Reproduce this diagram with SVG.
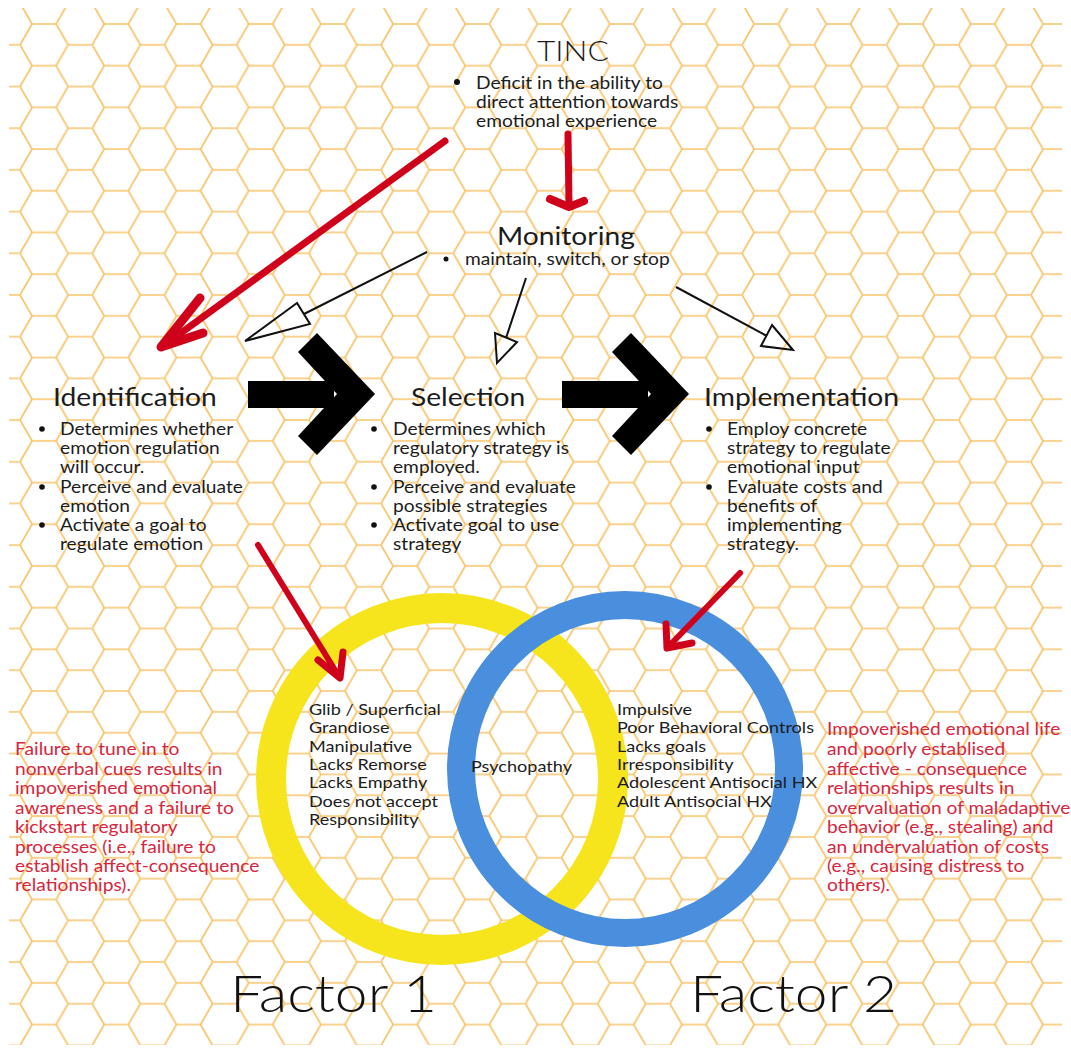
<svg xmlns="http://www.w3.org/2000/svg" width="1071" height="1051" viewBox="0 0 1071 1051">
<defs>
<pattern id="hex" patternUnits="userSpaceOnUse" x="20" y="24" width="72.21" height="41.69">
<path d="M0,20.845 L12.035,0 L36.105,0 L48.14,20.845 L36.105,41.69 L12.035,41.69 Z M48.14,20.845 L72.21,20.845" fill="none" stroke="#F9C36A" stroke-width="1.7"/>
</pattern>
<style>
text{font-family:Lato,"Liberation Sans",sans-serif;fill:#1c1c1c}
.h{font-size:25px}
.b{font-size:17px}
.c{font-size:16px}
.r{font-size:17px;fill:#D7263D}
.f{font-size:52px;font-weight:300;fill:#111}
.red{fill:none;stroke:#D0021B;stroke-linecap:round;stroke-linejoin:round}
.thin{fill:none;stroke:#111;stroke-width:2}
</style>
</defs>
<rect width="1071" height="1051" fill="#fff"/>
<rect x="9" y="8" width="1053" height="1037" fill="url(#hex)"/>

<g id="venn">
<circle id="factor1-circle" cx="442" cy="779" r="171" fill="none" stroke="#F6E51C" stroke-width="30"/>
<circle id="factor2-circle" cx="625" cy="769" r="164" fill="none" stroke="#4A8EDE" stroke-width="28"/>
</g>

<g id="connectors">
<path class="red" stroke-width="7" d="M445,141 L163,346"/>
<path class="red" stroke-width="9" d="M200,298 L161,347 L203,333"/>
<path class="red" stroke-width="7" d="M568,134 L569,205"/>
<path class="red" stroke-width="8" d="M550,199 L569,207 L584,201"/>
<path class="red" stroke-width="6" d="M258,545 L338,675"/>
<path class="red" stroke-width="7" d="M318,660 L340,678 L343,652"/>
<path class="red" stroke-width="6" d="M740,573 L670,645"/>
<path class="red" stroke-width="7" d="M666,624 L667,648 L692,643"/>
<path class="thin" d="M427,252 L304,314"/>
<path class="thin" d="M297,303 L245,341 L310,324 Z"/>
<path class="thin" d="M526,278 L506,338"/>
<path class="thin" d="M495,333 L497,363 L517,342 Z"/>
<path class="thin" d="M676,287 L767,336"/>
<path class="thin" d="M772,325 L793,350 L761,346 Z"/>
<path fill="#000" d="M248,381 H334 V408 H248 Z M298,352 L317,333 L375,394 L317,455 L298,436 L337,394 Z"/>
<path fill="#000" d="M562,381 H648 V408 H562 Z M612,352 L631,333 L689,394 L631,455 L612,436 L651,394 Z"/>
</g>

<g id="tinc">
<text x="537" y="61" transform="matrix(1.13,0,0,1,-69.81,0)" style="font-size:28px;font-weight:300">TINC</text>
<circle cx="457" cy="82" r="3" fill="#111"/>
<g transform="matrix(1.13,0,0,1,-61.88,0)">
<text class="b" x="476" y="89">Deficit in the ability to</text>
<text class="b" x="476" y="108">direct attention towards</text>
<text class="b" x="476" y="127">emotional experience</text>
</g>
</g>

<g id="monitoring">
<text class="h" x="497" y="245" transform="matrix(1.13,0,0,1,-64.61,0)">Monitoring</text>
<circle cx="446" cy="259" r="2.5" fill="#111"/>
<text x="465" y="265" transform="matrix(1.13,0,0,1,-60.45,0)" style="font-size:17px">maintain, switch, or stop</text>
</g>

<g id="identification">
<text class="h" x="53" y="406" transform="matrix(1.13,0,0,1,-6.89,0)">Identification</text>
<circle cx="42" cy="429" r="2.8" fill="#111"/>
<circle cx="42" cy="487" r="2.8" fill="#111"/>
<circle cx="42" cy="525" r="2.8" fill="#111"/>
<g transform="matrix(1.13,0,0,1,-7.8,0)">
<text class="b" x="60" y="435">Determines whether</text>
<text class="b" x="60" y="454">emotion regulation</text>
<text class="b" x="60" y="473">will occur.</text>
<text class="b" x="60" y="493">Perceive and evaluate</text>
<text class="b" x="60" y="512">emotion</text>
<text class="b" x="60" y="531">Activate a goal to</text>
<text class="b" x="60" y="550">regulate emotion</text>
</g>
</g>

<g id="selection">
<text class="h" x="411" y="406" transform="matrix(1.13,0,0,1,-53.43,0)">Selection</text>
<circle cx="374" cy="429" r="2.8" fill="#111"/>
<circle cx="374" cy="487" r="2.8" fill="#111"/>
<circle cx="374" cy="525" r="2.8" fill="#111"/>
<g transform="matrix(1.13,0,0,1,-51.09,0)">
<text class="b" x="393" y="435">Determines which</text>
<text class="b" x="393" y="454">regulatory strategy is</text>
<text class="b" x="393" y="473">employed.</text>
<text class="b" x="393" y="493">Perceive and evaluate</text>
<text class="b" x="393" y="512">possible strategies</text>
<text class="b" x="393" y="531">Activate goal to use</text>
<text class="b" x="393" y="550">strategy</text>
</g>
</g>

<g id="implementation">
<text class="h" x="704" y="406" transform="matrix(1.13,0,0,1,-91.52,0)">Implementation</text>
<circle cx="709" cy="429" r="2.8" fill="#111"/>
<circle cx="709" cy="487" r="2.8" fill="#111"/>
<g transform="matrix(1.13,0,0,1,-94.51,0)">
<text class="b" x="727" y="435">Employ concrete</text>
<text class="b" x="727" y="454">strategy to regulate</text>
<text class="b" x="727" y="473">emotional input</text>
<text class="b" x="727" y="493">Evaluate costs and</text>
<text class="b" x="727" y="512">benefits of</text>
<text class="b" x="727" y="531">implementing</text>
<text class="b" x="727" y="550">strategy.</text>
</g>
</g>

<g id="factor1-traits" transform="matrix(1.13,0,0,1,-40.17,0)">
<text class="c" x="309" y="715">Glib / Superficial</text>
<text class="c" x="309" y="733">Grandiose</text>
<text class="c" x="309" y="752">Manipulative</text>
<text class="c" x="309" y="770">Lacks Remorse</text>
<text class="c" x="309" y="788">Lacks Empathy</text>
<text class="c" x="309" y="807">Does not accept</text>
<text class="c" x="309" y="825">Responsibility</text>
</g>

<g id="psychopathy" transform="matrix(1.13,0,0,1,-61.23,0)">
<text class="c" x="471" y="772">Psychopathy</text>
</g>

<g id="factor2-traits" transform="matrix(1.13,0,0,1,-80.21,0)">
<text class="c" x="617" y="715">Impulsive</text>
<text class="c" x="617" y="733">Poor Behavioral Controls</text>
<text class="c" x="617" y="752">Lacks goals</text>
<text class="c" x="617" y="770">Irresponsibility</text>
<text class="c" x="617" y="788">Adolescent Antisocial HX</text>
<text class="c" x="617" y="807">Adult Antisocial HX</text>
</g>

<g id="note-left" transform="matrix(1.13,0,0,1,-1.95,0)">
<text class="r" x="15" y="755">Failure to tune in to</text>
<text class="r" x="15" y="775">nonverbal cues results in</text>
<text class="r" x="15" y="794">impoverished emotional</text>
<text class="r" x="15" y="814">awareness and a failure to</text>
<text class="r" x="15" y="833">kickstart regulatory</text>
<text class="r" x="15" y="853">processes (i.e., failure to</text>
<text class="r" x="15" y="872">establish affect-consequence</text>
<text class="r" x="15" y="891">relationships).</text>
</g>

<g id="note-right" transform="matrix(1.13,0,0,1,-107.51,0)">
<text class="r" x="827" y="735">Impoverished emotional life</text>
<text class="r" x="827" y="755">and poorly establised</text>
<text class="r" x="827" y="775">affective - consequence</text>
<text class="r" x="827" y="794">relationships  results in</text>
<text class="r" x="827" y="814">overvaluation of maladaptive</text>
<text class="r" x="827" y="833">behavior (e.g., stealing) and</text>
<text class="r" x="827" y="853">an undervaluation of costs</text>
<text class="r" x="827" y="872">(e.g., causing distress to</text>
<text class="r" x="827" y="891">others).</text>
</g>

<g id="factor-labels">
<text class="f" x="230" y="1012" transform="matrix(1.13,0,0,1,-29.9,0)">Factor 1</text>
<text class="f" x="690" y="1012" transform="matrix(1.13,0,0,1,-89.7,0)">Factor 2</text>
</g>
</svg>
